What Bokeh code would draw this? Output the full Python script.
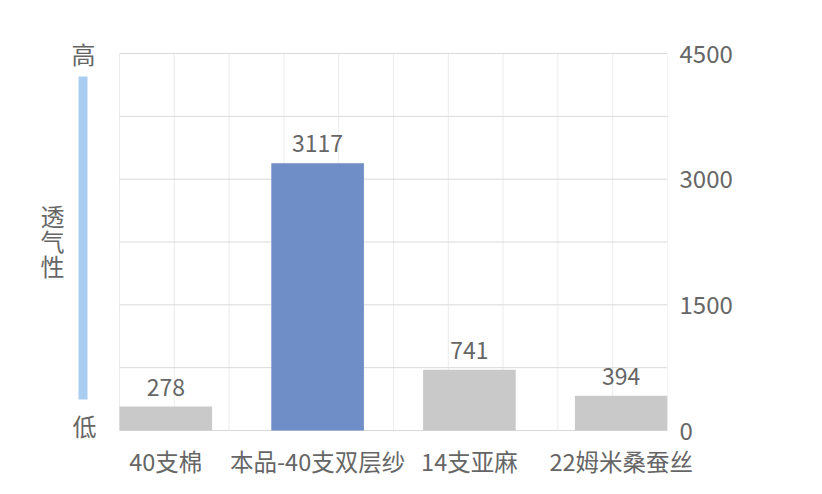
from bokeh.plotting import figure
from bokeh.models import Range1d, FixedTicker
from bokeh.core.properties import value
from bokeh.embed import file_html
from bokeh.resources import INLINE
import numpy as np

# ---- data ----
categories = ["40支棉", "本品-40支双层纱", "14支亚麻", "22姆米桑蚕丝"]
bar_values = [285, 3190, 725, 415]
value_labels = ["278", "3117", "741", "394"]
bar_colors = ["#c9c9c9", "#6f8dc6", "#c9c9c9", "#c9c9c9"]
y_ticks = [0, 1500, 3000, 4500]
grid_step = 750
y_max = 4500
hint_top = "高"
hint_bottom = "低"
hint_title = list("透气性")

FONT = "Noto Sans CJK SC"
TXT = "#666666"
BAR_W = 0.61

# ---- layout geometry (canvas pixels) ----
FL, FR, FT, FB = 30, 667, 40, 440      # frame (includes left indicator area)
PL, PR, PT, PB = 119, 667, 53, 430     # plotting area of the bar chart

xs = list(range(len(categories)))
x0, x1 = -BAR_W / 2, len(categories) - 1 + BAR_W / 2
sx = (x1 - x0) / (PR - PL)
sy = y_max / (PB - PT)


def dx(px):
    return x0 + (px - PL) * sx


def dy(py):
    return (PB - py) * sy


p = figure(frame_width=FR - FL, frame_height=FB - FT,
           x_range=Range1d(dx(FL), dx(FR)), y_range=Range1d(dy(FB), dy(FT)),
           y_axis_location="right", min_border_left=FL, min_border_top=FT,
           min_border_right=147, min_border_bottom=46,
           toolbar_location=None, output_backend="svg")
p.outline_line_color = None
p.grid.visible = False
p.background_fill_color = "white"
p.border_fill_color = "white"

# grid lines limited to the bar-chart area
vgrid = list(np.linspace(x0, x1, 11))
p.segment(x0=vgrid, x1=vgrid, y0=[0] * len(vgrid), y1=[y_max] * len(vgrid),
          line_color="#ececec", line_width=1)
hgrid = list(range(0, y_max + 1, grid_step))
p.segment(x0=[x0] * len(hgrid), x1=[x1] * len(hgrid), y0=hgrid, y1=hgrid,
          line_color="#d9d9d9", line_width=1)

# bars and value labels
p.vbar(x=xs, top=bar_values, bottom=0, width=BAR_W, fill_color=bar_colors, line_color=None)
p.text(x=xs, y=bar_values, text=value_labels, text_align="center", text_baseline="bottom",
       y_offset=-11, text_font=value(FONT), text_font_size="23px", text_color=TXT)

# x axis
p.xaxis.ticker = FixedTicker(ticks=xs)
p.xaxis.major_label_overrides = {i: c for i, c in zip(xs, categories)}
p.xaxis.axis_line_color = None
p.xaxis.major_tick_line_color = None
p.xaxis.minor_tick_line_color = None
p.xaxis.major_tick_out = 0
p.xaxis.major_tick_in = 0
p.xaxis.major_label_standoff = 3
p.xaxis.major_label_text_font = FONT
p.xaxis.major_label_text_font_size = "23.5px"
p.xaxis.major_label_text_color = TXT

# right y axis
p.yaxis.ticker = FixedTicker(ticks=y_ticks)
p.yaxis.axis_line_color = None
p.yaxis.major_tick_line_color = None
p.yaxis.minor_tick_line_color = None
p.yaxis.major_tick_out = 0
p.yaxis.major_tick_in = 0
p.yaxis.major_label_standoff = 12
p.yaxis.major_label_text_font = FONT
p.yaxis.major_label_text_font_size = "24px"
p.yaxis.major_label_text_color = TXT

# ---- left "high / low" indicator ----
p.quad(left=[dx(78)], right=[dx(87)], top=[dy(76)], bottom=[dy(399)],
       fill_color="#a9cdf0", line_color=None)
p.text(x=[dx(83), dx(84)], y=[dy(53), dy(425)], text=[hint_top, hint_bottom],
       text_font=value(FONT), text_font_size="24px", text_color=TXT,
       text_align="center", text_baseline="middle")
p.text(x=[dx(52)] * len(hint_title), y=[dy(214.5 + 25 * i) for i in range(len(hint_title))],
       text=hint_title, text_font=value(FONT), text_font_size="24px", text_color=TXT,
       text_align="center", text_baseline="middle")

open("out.html", "w").write(file_html(p, INLINE))
